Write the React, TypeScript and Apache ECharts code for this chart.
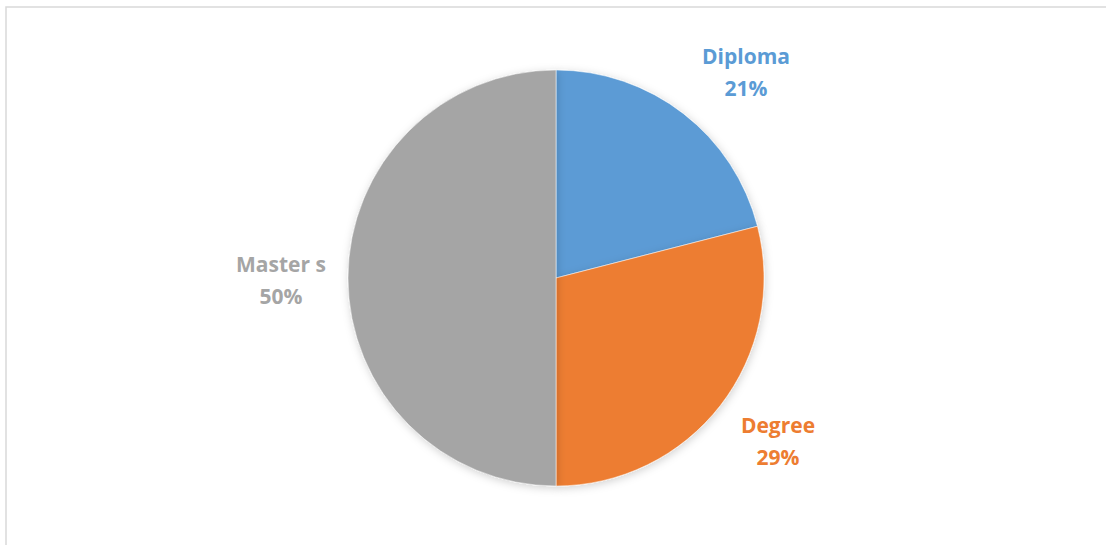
import React, { useEffect, useRef } from "react";
import * as echarts from "echarts";

const categories = ["Diploma", "Degree", "Master s"];
const values = [21, 29, 50];
const colors = ["#5B9BD5", "#ED7D31", "#A5A5A5"];
const labelCenters = [
  [746, 72],
  [778, 441],
  [281, 280],
];

export default function App() {
  const ref = useRef<HTMLDivElement>(null);
  useEffect(() => {
    const chart = echarts.init(ref.current!, null, { renderer: "svg" });
    chart.setOption({
      animation: false,
      backgroundColor: "#ffffff",
      graphic: [
        {
          type: "rect",
          shape: { x: 6, y: 7, width: 1200, height: 700 },
          style: { fill: "none", stroke: "#d9d9d9", lineWidth: 1.5 },
          silent: true,
        },
      ],
      series: [
        {
          type: "pie",
          center: [556, 278],
          radius: [0, 208],
          startAngle: 90,
          clockwise: true,
          data: categories.map((c, i) => ({
            name: c,
            value: values[i],
            itemStyle: { color: colors[i] },
            label: { color: colors[i] },
          })),
          itemStyle: {
            borderColor: "#ffffff",
            borderWidth: 0.5,
            shadowBlur: 8,
            shadowColor: "rgba(0,0,0,0.18)",
            shadowOffsetX: 1,
            shadowOffsetY: 2,
          },
          label: {
            show: true,
            position: "outside",
            formatter: (p: any) => `${p.name}\n${Math.round(p.percent)}%`,
            fontFamily: "Open Sans",
            fontWeight: "bold",
            fontSize: 21,
            lineHeight: 32,
            align: "center",
          },
          labelLine: { show: false },
          labelLayout: (params: any) => {
            const c = labelCenters[params.dataIndex];
            return { x: c[0], y: c[1], align: "center", verticalAlign: "middle" };
          },
        },
      ],
    });
    return () => chart.dispose();
  }, []);
  return (
    <div
      ref={ref}
      style={{ position: "fixed", left: 0, top: 0, width: 1106, height: 545 }}
    />
  );
}
